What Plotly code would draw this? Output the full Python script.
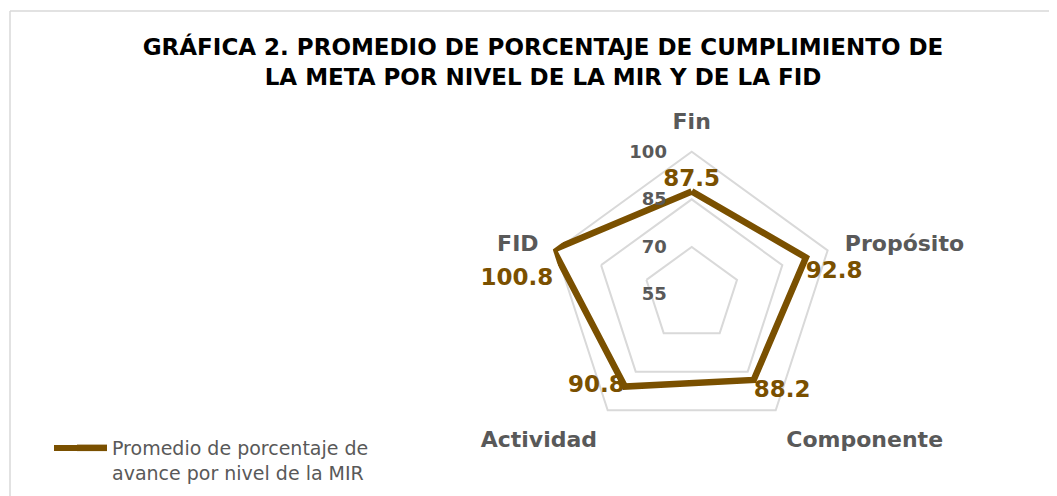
import plotly.graph_objects as go

categories = ["Fin", "Propósito", "Componente", "Actividad", "FID"]
values = [87.5, 92.8, 88.2, 90.8, 100.8]
value_labels = ["87.5", "92.8", "88.2", "90.8", "100.8"]
radial_ticks = [55, 70, 85, 100]
series_name = "Promedio de porcentaje de<br>avance por nivel de la MIR"

BROWN = "#7A5000"
GRAY = "#595959"
FONT = "DejaVu Sans"

# page body has an 8px margin, so the figure is sized to fill the rest of the window
W, H = 1049, 488
OFF = 8
cx, cy, R = 691.7 - OFF, 294.6 - OFF, 146.1

fig = go.Figure()
fig.add_trace(go.Scatterpolar(
    r=values + [values[0]],
    theta=categories + [categories[0]],
    mode="lines",
    line=dict(color=BROWN, width=6.5),
    name=series_name,
    showlegend=True,
))
fig.add_trace(go.Scatterpolar(
    r=values,
    theta=categories,
    mode="text",
    text=value_labels,
    texttemplate=["%{text}", "<br>%{text}", "%{text}", "%{text}", "<br><br>%{text}"],
    textposition=["top center", "middle right", "bottom right", "middle left", "middle left"],
    textfont=dict(family=FONT, size=23, color=BROWN, weight="bold"),
    showlegend=False,
    cliponaxis=False,
))

fig.update_layout(
    width=W, height=H,
    paper_bgcolor="white",
    margin=dict(l=0, r=0, t=0, b=0),
    title=dict(
        text="GRÁFICA 2. PROMEDIO DE PORCENTAJE DE CUMPLIMIENTO DE<br>LA META POR NIVEL DE LA MIR Y DE LA FID",
        x=(543 - OFF) / W, xanchor="center", y=1 - 47 / H, yanchor="top",
        font=dict(family=FONT, size=23, color="black", weight="bold"),
    ),
    polar=dict(
        domain=dict(x=[(cx - R) / W, (cx + R) / W], y=[1 - (cy + R) / H, 1 - (cy - R) / H]),
        gridshape="linear",
        bgcolor="white",
        radialaxis=dict(
            range=[55, 101], tickvals=radial_ticks, ticktext=[str(t) for t in radial_ticks],
            angle=90, tickangle=90, side="counterclockwise", showline=False,
            ticks="outside", ticklen=18, tickcolor="rgba(0,0,0,0)",
            gridcolor="#D9D9D9", gridwidth=1.5,
            tickfont=dict(family=FONT, size=18, color=GRAY, weight="bold"),
        ),
        angularaxis=dict(
            rotation=90, direction="clockwise", showline=False, showgrid=False,
            ticks="outside", ticklen=10, tickcolor="rgba(0,0,0,0)",
            tickfont=dict(family=FONT, size=22, color=GRAY, weight="bold"),
        ),
    ),
    legend=dict(
        x=64 / W, y=1 - 421 / H, xanchor="left", yanchor="top", valign="top",
        font=dict(family=FONT, size=19, color=GRAY),
        bgcolor="rgba(0,0,0,0)",
    ),
    shapes=[
        dict(type="line", xref="paper", yref="paper", x0=2 / W, x1=1, y0=1 - 3 / H, y1=1 - 3 / H,
             line=dict(color="#D9D9D9", width=1.5)),
        dict(type="line", xref="paper", yref="paper", x0=2 / W, x1=2 / W, y0=0, y1=1 - 3 / H,
             line=dict(color="#D9D9D9", width=1.5)),
        dict(type="line", xref="paper", yref="paper", x0=46 / W, x1=72 / W,
             y0=1 - 440 / H, y1=1 - 440 / H, line=dict(color=BROWN, width=6)),
    ],
)

fig.write_html("out.html")
